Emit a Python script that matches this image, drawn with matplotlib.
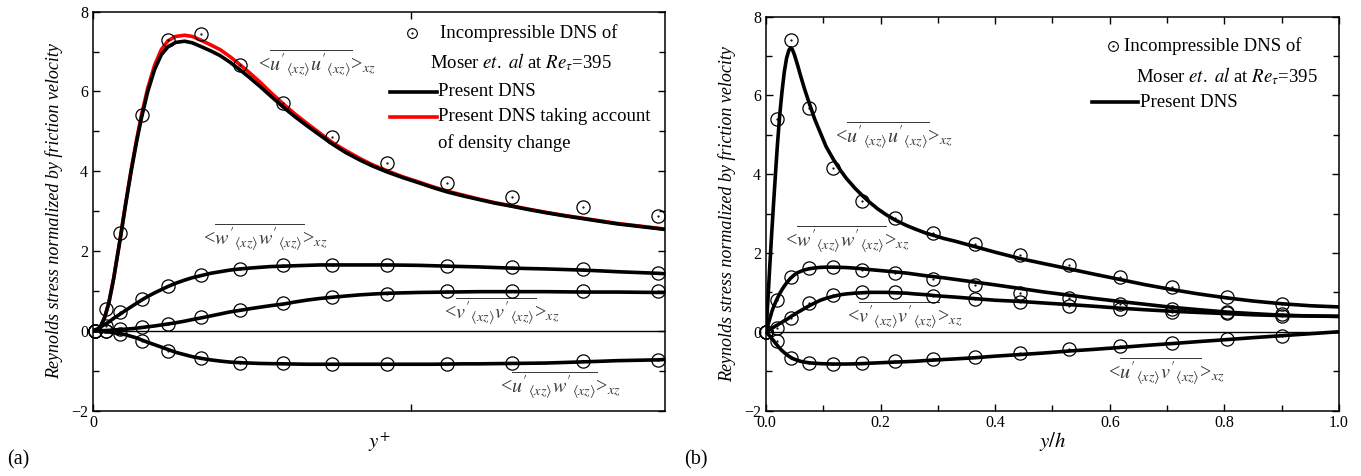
import matplotlib
matplotlib.use('Agg')
import matplotlib.pyplot as plt
from matplotlib.ticker import MultipleLocator

plt.rcParams['font.family'] = 'serif'
plt.rcParams['font.serif'] = ['Liberation Serif', 'DejaVu Serif']
plt.rcParams['mathtext.fontset'] = 'stix'

# ---- panel (a): wall units ----
# Moser et al. DNS points
mx_a = [1.3, 8.2, 17.2, 30.6, 47.2, 67.8, 92.3, 119.6, 150.7, 185.2, 223.0, 263.9, 308.6, 355.8]
uu_a = [0, 0.55, 2.45, 5.42, 7.3, 7.45, 6.67, 5.72, 4.85, 4.2, 3.71, 3.35, 3.1, 2.88]
ww_a = [0, 0.12, 0.46, 0.80, 1.13, 1.39, 1.55, 1.64, 1.66, 1.66, 1.63, 1.60, 1.54, 1.45]
vv_a = [0, 0.0, 0.04, 0.10, 0.17, 0.34, 0.52, 0.69, 0.84, 0.92, 0.99, 0.99, 0.99, 0.99]
uw_a = [0, -0.01, -0.07, -0.25, -0.50, -0.69, -0.80, -0.82, -0.84, -0.84, -0.84, -0.81, -0.76, -0.74]

# present DNS curves
lx_a = [0, 3, 5, 7.5, 10, 13, 17.2, 20.5, 24, 27.5, 30.6, 34.5, 38.8, 43, 47.2, 52, 57.7, 62.5,
        67.8, 74, 80, 86, 92.3, 98.5, 105, 112, 120, 127, 135, 143, 150.7, 159, 168, 176, 185.2,
        195, 205, 214, 223, 233, 243, 253, 263.9, 274, 285, 297, 308.6, 320, 330, 343, 355.8, 360]
luu_a = [0, 0.03, 0.12, 0.35, 0.7, 1.3, 2.31, 3.15, 3.99, 4.75, 5.35, 6.0, 6.55, 6.92, 7.12, 7.23,
         7.26, 7.22, 7.13, 7.02, 6.9, 6.74, 6.55, 6.35, 6.13, 5.88, 5.6, 5.37, 5.13, 4.9, 4.68, 4.47,
         4.28, 4.13, 3.98, 3.84, 3.71, 3.59, 3.48, 3.38, 3.29, 3.2, 3.12, 3.04, 2.96, 2.88, 2.81, 2.74,
         2.68, 2.62, 2.56, 2.54]
luu_rho = [0, 0.03, 0.12, 0.35, 0.7, 1.31, 2.33, 3.18, 4.03, 4.8, 5.42, 6.09, 6.66, 7.05, 7.27, 7.38,
           7.41, 7.38, 7.29, 7.17, 7.05, 6.88, 6.68, 6.47, 6.24, 5.97, 5.68, 5.44, 5.19, 4.95, 4.72, 4.52,
           4.32, 4.16, 4.01, 3.86, 3.73, 3.61, 3.5, 3.4, 3.3, 3.21, 3.13, 3.05, 2.97, 2.89, 2.82, 2.75,
           2.69, 2.63, 2.57, 2.55]
lww_a = [0, 0.05, 0.1, 0.16, 0.22, 0.31, 0.42, 0.51, 0.6, 0.69, 0.77, 0.86, 0.95, 1.03, 1.11, 1.19,
         1.27, 1.33, 1.38, 1.44, 1.48, 1.52, 1.55, 1.57, 1.59, 1.61, 1.62, 1.63, 1.64, 1.65, 1.65, 1.65,
         1.65, 1.65, 1.65, 1.645, 1.64, 1.63, 1.62, 1.61, 1.60, 1.585, 1.57, 1.56, 1.55, 1.535, 1.52,
         1.50, 1.48, 1.46, 1.44, 1.43]
lvv_a = [0, 0, 0, 0.005, 0.01, 0.02, 0.03, 0.04, 0.05, 0.065, 0.08, 0.10, 0.12, 0.145, 0.17, 0.2,
         0.24, 0.28, 0.32, 0.37, 0.42, 0.47, 0.51, 0.55, 0.59, 0.63, 0.67, 0.72, 0.77, 0.81, 0.84, 0.87,
         0.90, 0.92, 0.94, 0.95, 0.96, 0.965, 0.97, 0.975, 0.98, 0.98, 0.98, 0.98, 0.98, 0.975, 0.97,
         0.97, 0.97, 0.965, 0.96, 0.96]
luw_a = [0, 0, -0.01, -0.02, -0.03, -0.05, -0.07, -0.1, -0.14, -0.18, -0.23, -0.29, -0.35, -0.41,
         -0.47, -0.54, -0.60, -0.65, -0.69, -0.73, -0.76, -0.785, -0.80, -0.81, -0.82, -0.825, -0.83,
         -0.835, -0.84, -0.84, -0.84, -0.84, -0.84, -0.84, -0.84, -0.84, -0.84, -0.84, -0.835, -0.83,
         -0.83, -0.825, -0.82, -0.815, -0.81, -0.795, -0.78, -0.765, -0.75, -0.74, -0.73, -0.72]

# ---- panel (b): outer units ----
mx_b = [0.0, 0.0187, 0.043, 0.0756, 0.1175, 0.168, 0.225, 0.292, 0.365, 0.443, 0.528, 0.617, 0.709, 0.804, 0.901]
uu_b = [0, 5.39, 7.40, 5.67, 4.16, 3.32, 2.88, 2.52, 2.23, 1.95, 1.69, 1.40, 1.13, 0.87, 0.70]
ww_b = [0, 0.80, 1.40, 1.62, 1.65, 1.57, 1.48, 1.34, 1.19, 0.99, 0.86, 0.70, 0.57, 0.51, 0.45]
vv_b = [0, 0.10, 0.34, 0.72, 0.93, 1.00, 1.00, 0.91, 0.82, 0.76, 0.65, 0.59, 0.51, 0.47, 0.40]
uv_b = [0, -0.24, -0.66, -0.80, -0.83, -0.80, -0.74, -0.69, -0.63, -0.55, -0.45, -0.36, -0.28, -0.19, -0.10]

lx_b = [0, .003, .006, .01, .013, .017, .02, .024, .028, .032, .036, .04, .043, .046, .05, .055, .06,
        .067, .0756, .085, .095, .105, .1175, .13, .14, .155, .168, .18, .195, .21, .225, .245, .26,
        .28, .292, .31, .33, .365, .4, .443, .485, .528, .57, .617, .66, .709, .755, .804, .85, .901,
        .95, 1.0]
luu_b = [0, 0.7, 1.5, 2.5, 3.2, 4.1, 4.75, 5.5, 6.1, 6.6, 6.95, 7.15, 7.21, 7.17, 7.02, 6.78, 6.52,
         6.18, 5.8, 5.4, 5.05, 4.7, 4.38, 4.1, 3.9, 3.65, 3.46, 3.3, 3.12, 2.97, 2.84, 2.7, 2.61, 2.5,
         2.45, 2.37, 2.3, 2.16, 2.02, 1.86, 1.73, 1.6, 1.47, 1.33, 1.2, 1.07, 0.96, 0.86, 0.78, 0.71,
         0.66, 0.63]
lww_b = [0, 0.15, 0.3, 0.5, 0.62, 0.76, 0.85, 0.97, 1.07, 1.16, 1.24, 1.31, 1.36, 1.40, 1.45, 1.5,
         1.53, 1.57, 1.60, 1.62, 1.635, 1.64, 1.64, 1.635, 1.63, 1.615, 1.60, 1.58, 1.56, 1.54, 1.52,
         1.49, 1.46, 1.42, 1.40, 1.37, 1.33, 1.26, 1.19, 1.10, 1.01, 0.93, 0.85, 0.77, 0.70, 0.62, 0.56,
         0.50, 0.46, 0.42, 0.40, 0.39]
lvv_b = [0, 0.02, 0.05, 0.08, 0.11, 0.15, 0.17, 0.21, 0.24, 0.28, 0.31, 0.35, 0.38, 0.41, 0.44, 0.49,
         0.53, 0.59, 0.66, 0.73, 0.80, 0.85, 0.90, 0.94, 0.96, 0.98, 0.99, 1.0, 1.0, 1.0, 0.99, 0.98,
         0.96, 0.94, 0.92, 0.90, 0.88, 0.84, 0.80, 0.77, 0.73, 0.69, 0.65, 0.60, 0.56, 0.52, 0.49, 0.46,
         0.43, 0.41, 0.40, 0.39]
luv_b = [0, -0.05, -0.1, -0.17, -0.22, -0.3, -0.35, -0.42, -0.48, -0.53, -0.58, -0.62, -0.65, -0.675,
         -0.70, -0.725, -0.75, -0.77, -0.79, -0.80, -0.81, -0.815, -0.82, -0.82, -0.82, -0.815, -0.81,
         -0.80, -0.79, -0.78, -0.77, -0.76, -0.75, -0.73, -0.72, -0.705, -0.69, -0.66, -0.62, -0.58,
         -0.54, -0.49, -0.45, -0.40, -0.35, -0.30, -0.25, -0.20, -0.15, -0.10, -0.05, 0.0]

moser_txt = ['Incompressible DNS of', r'Moser $\it{et.}$ $\it{al}$ at $\it{Re}_{\tau}$=395']


def stress_label(a, b):
    sub = r'_{\langle xz\rangle}'
    return '<' + r'$\overline{' + a + "'" + sub + b + "'" + sub + '}$' + '>' + r'$_{xz}$'


def circles(ax, x, y):
    ax.plot(x, y, 'o', mfc='none', mec='black', ms=9.5, mew=0.9, clip_on=False, zorder=4)
    ax.plot(x, y, '.', color='black', ms=1.2, clip_on=False, zorder=4)


def style_axes(ax):
    ax.tick_params(which='both', direction='in', top=True, right=True, labelsize=11.5, width=1)
    ax.tick_params(which='major', length=5)
    ax.tick_params(which='minor', length=4)
    ax.set_ylim(-2, 8)
    ax.yaxis.set_major_locator(MultipleLocator(2))
    ax.yaxis.set_minor_locator(MultipleLocator(1))
    for s in ax.spines.values():
        s.set_linewidth(1.1)
    ax.axhline(0, color='black', lw=1, zorder=1)
    ax.set_ylabel('Reynolds stress normalized by friction velocity', fontsize=13, style='italic')
    ax.yaxis.set_label_coords(-0.052, 0.5)


fig = plt.figure(figsize=(13.61, 4.76), dpi=100)

# panel (a)
ax1 = fig.add_axes([0.0683, 0.1376, 0.4203, 0.8378])
style_axes(ax1)
ax1.set_xlim(0, 360)
ax1.set_xticks([0, 200])
ax1.set_xticklabels(['0', ''])
ax1.plot(lx_a, luu_rho, color='red', lw=2.6, zorder=2)
for yy in (luu_a, lww_a, lvv_a, luw_a):
    ax1.plot(lx_a, yy, color='black', lw=2.6, zorder=3)
for yy in (uu_a, ww_a, vv_a, uw_a):
    circles(ax1, mx_a, yy)
ax1.set_xlabel(r'$y^{+}$', fontsize=15, labelpad=-1)

lab_kw = dict(fontsize=14.5, color='#3a3a3a', ha='left', va='center')
ax1.text(104, 6.7, stress_label('u', 'u'), **lab_kw)
ax1.text(69, 2.34, stress_label('w', 'w'), **lab_kw)
ax1.text(221, 0.49, stress_label('v', 'v'), **lab_kw)
ax1.text(256, -1.36, stress_label('u', 'w'), **lab_kw)

# legend (a)
tr = ax1.transAxes
leg_kw = dict(fontsize=13.5, ha='left', va='center', transform=tr)
ax1.plot([0.557], [0.946], 'o', mfc='none', mec='black', ms=7, mew=0.8, transform=tr)
ax1.plot([0.557], [0.946], '.', color='black', ms=1.2, transform=tr)
ax1.text(0.607, 0.947, moser_txt[0], **leg_kw)
ax1.text(0.589, 0.874, moser_txt[1], **leg_kw)
ax1.plot([0.519, 0.601], [0.799, 0.799], color='black', lw=2.6, transform=tr)
ax1.text(0.603, 0.799, 'Present DNS', **leg_kw)
ax1.plot([0.519, 0.601], [0.736, 0.736], color='red', lw=2.6, transform=tr)
ax1.text(0.603, 0.736, 'Present DNS taking account', **leg_kw)
ax1.text(0.603, 0.671, 'of density change', **leg_kw)

# panel (b)
ax2 = fig.add_axes([0.5628, 0.1376, 0.4210, 0.8273])
style_axes(ax2)
ax2.set_xlim(0, 1.0)
ax2.xaxis.set_major_locator(MultipleLocator(0.2))
ax2.xaxis.set_minor_locator(MultipleLocator(0.1))
ax2.xaxis.set_major_formatter(plt.FormatStrFormatter('%.1f'))
for yy in (luu_b, lww_b, lvv_b, luv_b):
    ax2.plot(lx_b, yy, color='black', lw=2.6, zorder=3)
for yy in (uu_b, ww_b, vv_b, uv_b):
    circles(ax2, mx_b, yy)
ax2.set_xlabel(r'$y/h$', fontsize=15, labelpad=-1)

ax2.text(0.12, 4.99, stress_label('u', 'u'), **lab_kw)
ax2.text(0.033, 2.34, stress_label('w', 'w'), **lab_kw)
ax2.text(0.141, 0.42, stress_label('v', 'v'), **lab_kw)
ax2.text(0.597, -1.0, stress_label('u', 'v'), **lab_kw)

tr = ax2.transAxes
leg_kw = dict(fontsize=13.5, ha='left', va='center', transform=tr)
ax2.plot([0.605], [0.926], 'o', mfc='none', mec='black', ms=7, mew=0.8, transform=tr)
ax2.plot([0.605], [0.926], '.', color='black', ms=1.2, transform=tr)
ax2.text(0.625, 0.926, moser_txt[0], **leg_kw)
ax2.text(0.646, 0.849, moser_txt[1], **leg_kw)
ax2.plot([0.569, 0.649], [0.783, 0.783], color='black', lw=2.6, transform=tr)
ax2.text(0.653, 0.783, 'Present DNS', **leg_kw)

fig.text(0.005, 0.024, '(a)', fontsize=14.5)
fig.text(0.503, 0.024, '(b)', fontsize=14.5)

fig.savefig('out.png', dpi=100)
